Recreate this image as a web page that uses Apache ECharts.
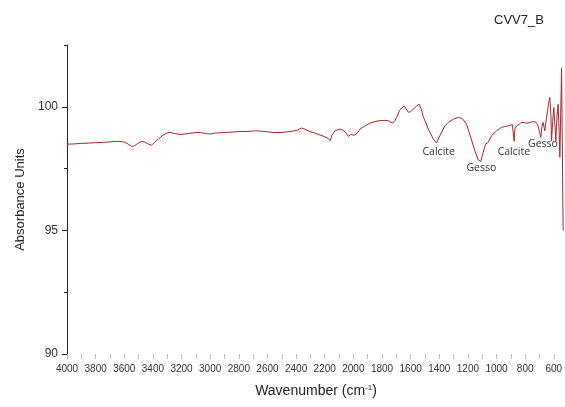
<!DOCTYPE html>
<html>
<head>
<meta charset="utf-8">
<title>CVV7_B</title>
<script src="https://cdn.jsdelivr.net/npm/echarts@6.0.0/dist/echarts.min.js"></script>
<style>
  html, body { margin: 0; padding: 0; background: #ffffff; }
  #chart { width: 565px; height: 407px; }
</style>
</head>
<body>
<div id="chart"></div>
<script>
// FTIR spectrum of sample CVV7_B, wavenumber (cm-1) vs absorbance units
const wavenumbers = [
  4000, 3950, 3900, 3850, 3800, 3750, 3700, 3660, 3630, 3600,
  3575, 3550, 3530, 3510, 3490, 3475, 3455, 3435, 3410, 3390,
  3360, 3330, 3300, 3280, 3250, 3211, 3180, 3140, 3100, 3070,
  3040, 3001, 2970, 2940, 2885, 2840, 2800, 2750, 2700, 2675,
  2640, 2600, 2559, 2513, 2470, 2420, 2390, 2362, 2340, 2303,
  2270, 2233, 2200, 2175, 2162, 2150, 2128, 2094, 2075, 2059,
  2035, 2020, 2012, 1995, 1982, 1970, 1953, 1920, 1884, 1850,
  1814, 1780, 1756, 1726, 1710, 1698, 1675, 1647, 1630, 1617,
  1600, 1582, 1560, 1542, 1525, 1512, 1490, 1477, 1442, 1419,
  1396, 1361, 1337, 1302, 1268, 1240, 1210, 1180, 1152, 1128,
  1110, 1093, 1077, 1065, 1058, 1035, 1000, 965, 940, 919,
  905, 890, 882, 877, 872, 860, 840, 826, 800, 780,
  760, 745, 725, 710, 700, 691, 683, 675, 663, 652,
  644, 635, 628, 620, 616, 608, 600, 593, 586, 578,
  570, 563, 558, 546, 535
];
const absorbance = [
  98.49, 98.50, 98.52, 98.53, 98.55, 98.56, 98.58, 98.60, 98.60, 98.57,
  98.50, 98.40, 98.42, 98.50, 98.57, 98.60, 98.57, 98.50, 98.45, 98.55,
  98.70, 98.85, 98.95, 98.96, 98.92, 98.88, 98.90, 98.93, 98.96, 98.96,
  98.93, 98.90, 98.93, 98.95, 98.96, 98.98, 99.00, 99.00, 99.02, 99.03,
  99.01, 98.99, 98.96, 98.96, 98.98, 99.02, 99.06, 99.14, 99.10, 98.99,
  98.94, 98.86, 98.79, 98.72, 98.63, 98.85, 99.03, 99.10, 99.06, 98.99,
  98.80, 98.88, 98.90, 98.85, 98.80, 98.95, 99.10, 99.22, 99.34, 99.40,
  99.44, 99.45, 99.44, 99.34, 99.44, 99.57, 99.88, 100.03, 99.90, 99.78,
  99.80, 99.90, 100.02, 100.11, 99.90, 99.60, 99.30, 99.10, 98.70, 98.54,
  98.83, 99.23, 99.37, 99.50, 99.57, 99.53, 99.30, 98.76, 98.23, 97.85,
  97.79, 98.16, 98.49, 98.45, 98.56, 98.83, 99.03, 99.17, 99.20, 99.23,
  99.25, 99.28, 99.20, 98.60, 99.10, 99.23, 99.30, 99.37, 99.35, 99.34,
  99.38, 99.40, 99.38, 99.23, 99.15, 98.76, 99.20, 99.37, 99.03, 99.50,
  99.84, 100.20, 100.38, 99.60, 98.63, 99.40, 99.97, 99.30, 98.63, 99.60,
  100.10, 99.00, 97.96, 101.55, 95.00
];

// Band assignments written on the plot
const bandNames = ['Calcite', 'Gesso', 'Calcite', 'Gesso'];
const bandWavenumbers = [1404, 1106, 879, 676];
const bandLabelLevels = [98.17, 97.54, 98.17, 98.50];

// Axis ticks and labels
const xLabelValues = [4000, 3800, 3600, 3400, 3200, 3000, 2800, 2600, 2400, 2200, 2000, 1800, 1600, 1400, 1200, 1000, 800, 600];
const xTickValues = [4000, 3900, 3800, 3700, 3600, 3500, 3400, 3300, 3200, 3100, 3000, 2900, 2800, 2700, 2600, 2500, 2400, 2300, 2200, 2100, 2000, 1900, 1800, 1700, 1600, 1500, 1400, 1300, 1200, 1100, 1000, 900, 800, 700, 600];
const yLabelValues = [90, 95, 100];
const yMinorTickValues = [92.5, 97.5, 102.5];

const axisFont = 'Liberation Sans, Arial, sans-serif';

const chart = echarts.init(document.getElementById('chart'), null, { renderer: 'canvas' });

chart.setOption({
  animation: false,
  backgroundColor: '#ffffff',
  title: {
    text: 'CVV7_B',
    left: 489,
    top: 9,
    textStyle: { fontFamily: axisFont, fontSize: 13, fontWeight: 'normal', color: '#222' }
  },
  grid: { left: 67, right: 0, top: 45, bottom: 53, containLabel: false, outerBoundsMode: 'none' },
  xAxis: {
    type: 'value',
    inverse: true,
    min: 522,
    max: 4000,
    axisLine: { show: false },
    splitLine: { show: false },
    axisTick: {
      show: true,
      customValues: xTickValues,
      length: 5,
      lineStyle: { color: '#bbbbbb', width: 1 }
    },
    axisLabel: {
      customValues: xLabelValues,
      formatter: (v) => String(v),
      margin: 10,
      fontFamily: axisFont,
      fontSize: 10,
      color: '#333'
    },
    name: 'Wavenumber (cm{sup|-1})',
    nameLocation: 'middle',
    nameGap: 30,
    nameTextStyle: {
      fontFamily: axisFont,
      fontSize: 14,
      color: '#222',
      rich: {
        sup: { fontFamily: axisFont, fontSize: 8, color: '#222', verticalAlign: 'top', padding: [0, 0, 7, 0] }
      }
    }
  },
  yAxis: [
    {
      type: 'value',
      min: 90,
      max: 102.5,
      position: 'left',
      axisLine: { show: true, lineStyle: { color: '#222', width: 1 } },
      splitLine: { show: false },
      axisTick: { show: true, customValues: yLabelValues, length: 5, lineStyle: { color: '#222' } },
      axisLabel: {
        customValues: yLabelValues,
        formatter: (v) => String(v),
        margin: 9,
        fontFamily: axisFont,
        fontSize: 12,
        color: '#333'
      },
      name: 'Absorbance Units',
      nameLocation: 'middle',
      nameRotate: 90,
      nameGap: 37,
      nameTextStyle: { fontFamily: axisFont, fontSize: 13, color: '#222' }
    },
    {
      type: 'value',
      min: 90,
      max: 102.5,
      position: 'left',
      offset: 0,
      axisLine: { show: false },
      splitLine: { show: false },
      axisTick: { show: true, customValues: yMinorTickValues, length: 3, lineStyle: { color: '#222' } },
      axisLabel: { show: false }
    }
  ],
  series: [
    {
      type: 'line',
      yAxisIndex: 0,
      data: wavenumbers.map((w, i) => [w, absorbance[i]]),
      showSymbol: false,
      symbol: 'none',
      lineStyle: { color: '#ad262c', width: 1 },
      markPoint: {
        symbol: 'circle',
        symbolSize: 0,
        silent: true,
        label: {
          show: true,
          position: 'inside',
          formatter: '{b}',
          fontFamily: 'Open Sans, sans-serif',
          fontSize: 10.5,
          color: '#333'
        },
        data: bandNames.map((n, i) => ({ name: n, coord: [bandWavenumbers[i], bandLabelLevels[i]] }))
      }
    }
  ]
});
</script>
</body>
</html>
